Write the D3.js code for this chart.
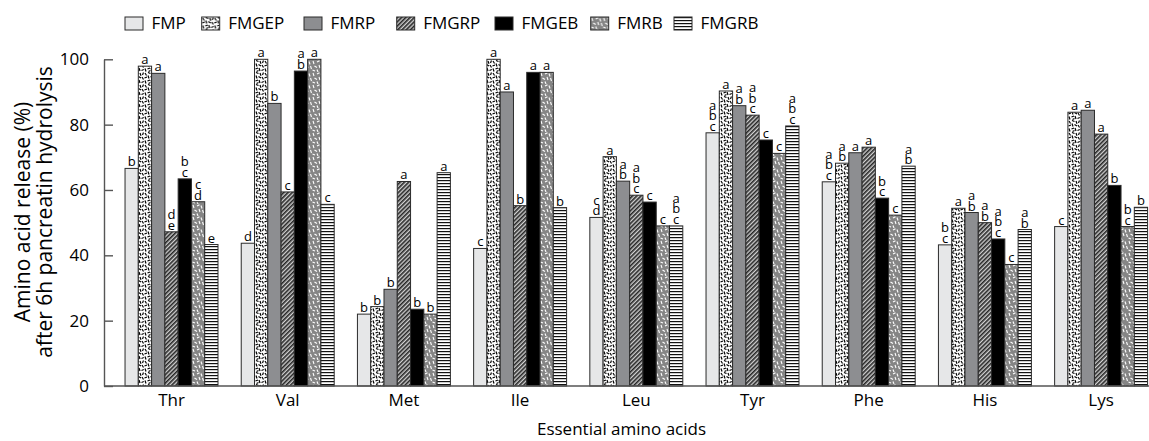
<!DOCTYPE html>
<html>
<head>
<meta charset="utf-8">
<script src="https://cdn.jsdelivr.net/npm/d3@7"></script>
<style>
  html, body { margin: 0; padding: 0; background: #fff; }
  svg { display: block; font-family: "Open Sans", sans-serif; }
</style>
</head>
<body>
<svg id="chart" width="1149" height="441"></svg>
<script>
// Essential amino acids on the x axis
const categories = ["Thr", "Val", "Met", "Ile", "Leu", "Tyr", "Phe", "His", "Lys"];
const seriesNames = ["FMP", "FMGEP", "FMRP", "FMGRP", "FMGEB", "FMRB", "FMGRB"];

// Amino acid release (%) after 6h pancreatin hydrolysis
const FMP   = [66.6, 43.7, 22.0, 42.1, 51.6, 77.5, 62.5, 43.2, 48.8];
const FMGEP = [97.9, 100.0, 24.3, 100.0, 70.2, 90.3, 68.2, 54.4, 83.8];
const FMRP  = [95.7, 86.5, 29.6, 90.0, 62.7, 85.8, 71.4, 53.1, 84.4];
const FMGRP = [47.2, 59.4, 62.6, 55.2, 58.4, 82.9, 73.1, 50.0, 77.1];
const FMGEB = [63.4, 96.4, 23.5, 96.0, 56.3, 75.3, 57.5, 45.0, 61.4];
const FMRB  = [56.4, 100.0, 22.0, 96.0, 49.0, 71.2, 52.3, 37.2, 48.8];
const FMGRB = [43.3, 55.6, 65.3, 54.6, 49.0, 79.6, 67.3, 47.9, 54.7];

// Significance letters shown above each bar
const FMP_sig   = ["b", "d", "b", "c", "cd", "abc", "abc", "bc", "c"];
const FMGEP_sig = ["a", "a", "b", "a", "a", "a", "ab", "a", "a"];
const FMRP_sig  = ["a", "b", "b", "a", "ab", "ab", "a", "ab", "a"];
const FMGRP_sig = ["de", "c", "a", "b", "abc", "abc", "a", "ab", "a"];
const FMGEB_sig = ["bc", "ab", "b", "a", "c", "c", "bc", "abc", "b"];
const FMRB_sig  = ["cd", "a", "b", "a", "c", "c", "c", "c", "bc"];
const FMGRB_sig = ["e", "c", "a", "b", "abc", "abc", "ab", "ab", "b"];

const yTicks = [0, 20, 40, 60, 80, 100];

const values = { FMP, FMGEP, FMRP, FMGRP, FMGEB, FMRB, FMGRB };
const sigs = { FMP: FMP_sig, FMGEP: FMGEP_sig, FMRP: FMRP_sig, FMGRP: FMGRP_sig,
               FMGEB: FMGEB_sig, FMRB: FMRB_sig, FMGRB: FMGRB_sig };

const svg = d3.select("#chart");
const W = 1149, H = 441;
const plot = { left: 104, right: 1149.8, top: 59.3, bottom: 386 };

// ---- fill patterns ----
const defs = svg.append("defs");

function speckle(id, bg, ink, segs, size, sw) {
  const p = defs.append("pattern").attr("id", id)
    .attr("patternUnits", "userSpaceOnUse").attr("width", size).attr("height", size);
  p.append("rect").attr("width", size).attr("height", size).attr("fill", bg);
  segs.forEach(s => p.append("line")
    .attr("x1", s[0]).attr("y1", s[1]).attr("x2", s[2]).attr("y2", s[3])
    .attr("stroke", ink).attr("stroke-width", sw).attr("stroke-linecap", "butt"));
}

// dense black flecks on white
speckle("pat-FMGEP", "#ffffff", "#000000", [
  [1, 1, 2.5, 3.5], [4, 0.5, 6.5, 1.5], [8, 1, 9, 3.8], [10.5, 3, 11.5, 0.5],
  [0.5, 6, 3, 5], [4, 3.5, 5, 6.5], [6.5, 4.5, 9, 6], [10, 5, 11.5, 7.5],
  [1, 8.5, 2, 11.5], [3.5, 9, 6, 8], [7, 8, 8, 11], [9.5, 10.5, 11.8, 9.5],
  [4.5, 11.5, 6.5, 10.5]
], 12, 1.2);

// white flecks on mid grey
speckle("pat-FMRB", "#858585", "#ffffff", [
  [1, 1, 2, 4], [5, 2, 7.5, 0.8], [9, 1.5, 10, 4.5], [2.5, 6, 5, 7.5],
  [7, 5, 8, 8], [10.5, 6, 11.5, 9], [0.5, 10, 3, 11], [5, 9.5, 6, 12]
], 12, 1.1);

// diagonal hatching
(function () {
  const p = defs.append("pattern").attr("id", "pat-FMGRP")
    .attr("patternUnits", "userSpaceOnUse").attr("width", 3).attr("height", 3)
    .attr("patternTransform", "rotate(45)");
  p.append("rect").attr("width", 3).attr("height", 3).attr("fill", "#d0d0d0");
  p.append("rect").attr("width", 1.6).attr("height", 3).attr("fill", "#262626");
})();

// horizontal stripes
(function () {
  const p = defs.append("pattern").attr("id", "pat-FMGRB")
    .attr("patternUnits", "userSpaceOnUse").attr("width", 6).attr("height", 3);
  p.append("rect").attr("width", 6).attr("height", 3).attr("fill", "#ffffff");
  p.append("rect").attr("width", 6).attr("height", 1.2).attr("fill", "#111111");
})();

const fills = {
  FMP: "#e6e7e8",
  FMGEP: "url(#pat-FMGEP)",
  FMRP: "#8d8e91",
  FMGRP: "url(#pat-FMGRP)",
  FMGEB: "#000000",
  FMRB: "url(#pat-FMRB)",
  FMGRB: "url(#pat-FMGRB)"
};

// ---- scales ----
const x0 = d3.scaleBand().domain(categories)
  .range([plot.left, plot.right]).paddingInner(0.2).paddingOuter(0.1).align(0.905);
const x1 = d3.scaleBand().domain(seriesNames).range([0, x0.bandwidth()]).padding(0);
const y = d3.scaleLinear().domain([0, 100]).range([plot.bottom, plot.top]);

// ---- bars ----
const rows = [];
categories.forEach((c, i) => seriesNames.forEach(s => rows.push({
  cat: c, series: s, value: values[s][i], sig: sigs[s][i]
})));

const g = svg.append("g");
g.selectAll("rect.bar").data(rows).enter().append("rect")
  .attr("class", "bar")
  .attr("x", d => x0(d.cat) + x1(d.series))
  .attr("y", d => y(d.value))
  .attr("width", x1.bandwidth())
  .attr("height", d => y(0) - y(d.value))
  .attr("fill", d => fills[d.series])
  .attr("stroke", "#2b2b2b")
  .attr("stroke-width", 1);

// significance letters stacked above each bar (one text element per bar)
const lineH = 10.6;
g.selectAll("text.sig").data(rows).enter().append("text")
  .attr("class", "sig")
  .attr("text-anchor", "middle")
  .attr("font-size", 13)
  .attr("fill", "#000")
  .each(function (d) {
    const letters = d.sig.split("");
    const cx = x0(d.cat) + x1(d.series) + x1.bandwidth() / 2;
    const top = y(d.value) - 2 - (letters.length - 1) * lineH;
    letters.forEach((ch, k) => {
      d3.select(this).append("tspan")
        .attr("x", cx)
        .attr("y", top + k * lineH)
        .text(ch);
    });
  });

// ---- axes ----
const yAxis = d3.axisLeft(y).tickValues(yTicks).tickSizeInner(-9).tickSizeOuter(0).tickPadding(15);
const ya = svg.append("g").attr("transform", `translate(${plot.left},0)`).call(yAxis);
ya.select(".domain").attr("stroke", "#555").attr("stroke-width", 1.4);
ya.selectAll(".tick line").attr("stroke", "#555").attr("stroke-width", 1.4);
ya.selectAll(".tick text").attr("font-size", 17).attr("fill", "#000")
  .attr("font-family", "'Open Sans', sans-serif");

const xAxis = d3.axisBottom(x0).tickSize(0).tickPadding(8);
const xa = svg.append("g").attr("transform", `translate(0,${plot.bottom})`).call(xAxis);
xa.select(".domain").remove();
xa.selectAll(".tick text").attr("font-size", 17).attr("fill", "#000")
  .attr("font-family", "'Open Sans', sans-serif");
svg.append("line")
  .attr("x1", plot.left).attr("x2", W)
  .attr("y1", plot.bottom).attr("y2", plot.bottom)
  .attr("stroke", "#555").attr("stroke-width", 1.4);

// axis titles
svg.append("text")
  .attr("x", (plot.left + W) / 2 - 5).attr("y", 435)
  .attr("text-anchor", "middle").attr("font-size", 17).attr("fill", "#000")
  .text("Essential amino acids");

const yt = svg.append("text")
  .attr("transform", `translate(30,212) rotate(-90)`)
  .attr("text-anchor", "middle").attr("font-size", 21).attr("fill", "#000");
yt.append("tspan").attr("x", 0).attr("dy", 0).text("Amino acid release (%)");
yt.append("tspan").attr("x", 0).attr("dy", 22).text("after 6h pancreatin hydrolysis");

// ---- legend ----
const legendX = [125, 201.7, 304, 396.7, 495, 590.7, 674];
const lg = svg.append("g");
seriesNames.forEach((s, i) => {
  const item = lg.append("g").attr("transform", `translate(${legendX[i]},17)`);
  item.append("rect").attr("width", 18).attr("height", 13)
    .attr("fill", fills[s]).attr("stroke", "#2b2b2b").attr("stroke-width", 1);
  item.append("text").attr("x", 26.5).attr("y", 12.3)
    .attr("font-size", 17).attr("fill", "#000").text(s);
});
</script>
</body>
</html>
